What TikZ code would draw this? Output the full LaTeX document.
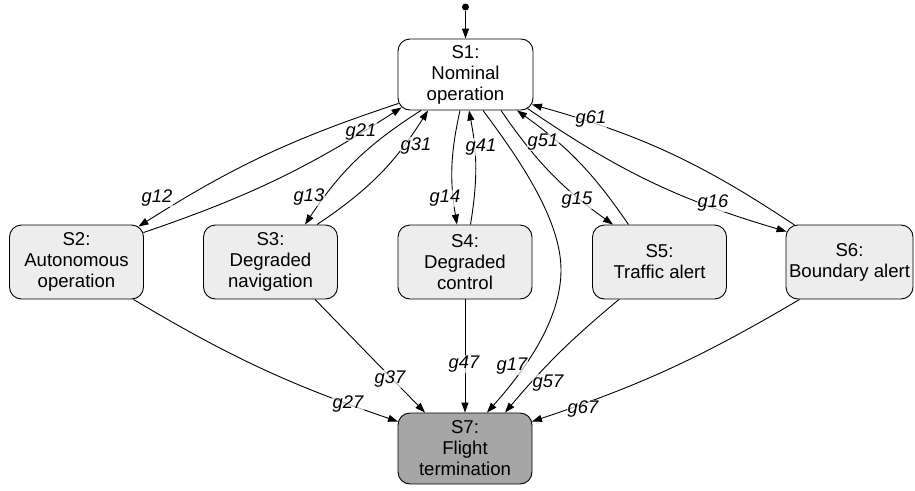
\documentclass[tikz,border=0pt]{standalone}
\usepackage{fontspec}
\setmainfont{Liberation Sans}
\usetikzlibrary{arrows.meta}
\definecolor{lightg}{RGB}{237,237,237}
\definecolor{darkg}{RGB}{166,166,166}
\begin{document}
\begin{tikzpicture}[x=1pt,y=-1pt,
  state/.style={draw, line width=0.9pt, rounded corners=12pt, minimum width=134pt,
    minimum height=74pt, align=center, inner sep=0pt,
    font=\fontsize{18.6}{21}\selectfont},
  e/.style={line width=0.9pt, -{Triangle[length=10pt,width=7pt]}},
  lbl/.style={font=\fontsize{18.3}{22}\selectfont\itshape, fill=white, fill opacity=0.7,
    text opacity=1, inner sep=0.5pt}]
\useasboundingbox (0,0) rectangle (915,490);

% states
\node[state, fill=white, minimum width=135pt, minimum height=71pt] (S1) at (465.5,74.5) {S1:\\Nominal\\operation};
\node[state, fill=lightg] (S2) at (76.5,262) {S2:\\Autonomous\\operation};
\node[state, fill=lightg] (S3) at (270.5,262) {S3:\\Degraded\\navigation};
\node[state, fill=lightg] (S4) at (465,262) {S4:\\Degraded\\control};
\node[state, fill=lightg] (S5) at (659.5,262) {S5:\\Traffic alert};
\node[state, fill=lightg, minimum width=127pt] (S6) at (849.5,262) {S6:\\Boundary alert};
\node[state, fill=darkg, minimum height=71pt] (S7) at (465,448.5) {S7:\\Flight\\termination};

% initial
\node[circle, fill=black, inner sep=0pt, minimum size=7pt] (init) at (465.5,7) {};
\draw[e] (init) -- (S1.north);

% S1 <-> S2
\draw[e] ([shift={(1,-7)}]S1.south west) to[bend right=7] ([shift={(-5.5,2)}]S2.north east);
\draw[e] ([shift={(-0.5,8)}]S2.north east) to[bend right=7] ([shift={(4,-3)}]S1.south west);
% S1 <-> S3
\draw[e] ([shift={(-44.5,0)}]S1.south) to[bend right=12] ([shift={(34.5,0)}]S3.north);
\draw[e] ([shift={(46.5,0)}]S3.north) to[bend right=12] ([shift={(-37.5,0)}]S1.south);
% S1 <-> S4
\draw[e] ([shift={(-5.5,0)}]S1.south) to[bend right=11] ([shift={(-8,0)}]S4.north);
\draw[e] ([shift={(5.5,0)}]S4.north) to[bend right=10] ([shift={(3.5,0)}]S1.south);
% S1 <-> S5
\draw[e] ([shift={(35.5,0)}]S1.south) to[bend right=10] ([shift={(-46.5,0)}]S5.north);
\draw[e] ([shift={(-31,0)}]S5.north) to[bend right=10] ([shift={(51.5,0)}]S1.south);
% S1 <-> S6
\draw[e] ([shift={(-6,-2)}]S1.south east) to[bend right=9] ([shift={(1,7)}]S6.north west);
\draw[e] ([shift={(9,0.5)}]S6.north west) to[bend right=9] ([shift={(-1.5,-6)}]S1.south east);
% S1 -> S7
\coordinate (k17) at (561,270);
\draw[e] ([shift={(17.5,0)}]S1.south) .. controls (520,160) and (561,220) .. (k17)
  .. controls (561,320) and (525,370) .. ([shift={(22,0)}]S7.north);
% into S7
\draw[e] ([shift={(-10.5,0)}]S2.south east) to[bend right=6] ([shift={(0.5,9)}]S7.north west);
\draw[e] ([shift={(44.5,0)}]S3.south) -- ([shift={(-40,0)}]S7.north);
\draw[e] (S4.south) -- (S7.north);
\draw[e] ([shift={(-40.5,0)}]S5.south) to[bend right=5] ([shift={(40,0)}]S7.north);
\draw[e] ([shift={(14,0)}]S6.south west) to[bend left=6] ([shift={(-0.5,9)}]S7.north east);

% labels
\node[lbl] (l12) at (157,198) {g12};
\node[lbl] (l21) at (361,132) {g21};
\node[lbl] (l13) at (309,197.5) {g13};
\node[lbl] (l31) at (416,146) {g31};
\node[lbl] (l14) at (445,198.5) {g14};
\node[lbl] (l41) at (481,147) {g41};
\node[lbl] (l15) at (577,200) {g15};
\node[lbl] (l51) at (543,142) {g51};
\node[lbl] (l16) at (713,203) {g16};
\node[lbl] (l61) at (591,119) {g61};
\node[lbl] (l17) at (512,366) {g17};
\node[lbl] (l27) at (348,404) {g27};
\node[lbl] (l37) at (390,379) {g37};
\node[lbl] (l47) at (464,364) {g47};
\node[lbl] (l57) at (548,383) {g57};
\node[lbl] (l67) at (583,409) {g67};
\end{tikzpicture}
\end{document}
